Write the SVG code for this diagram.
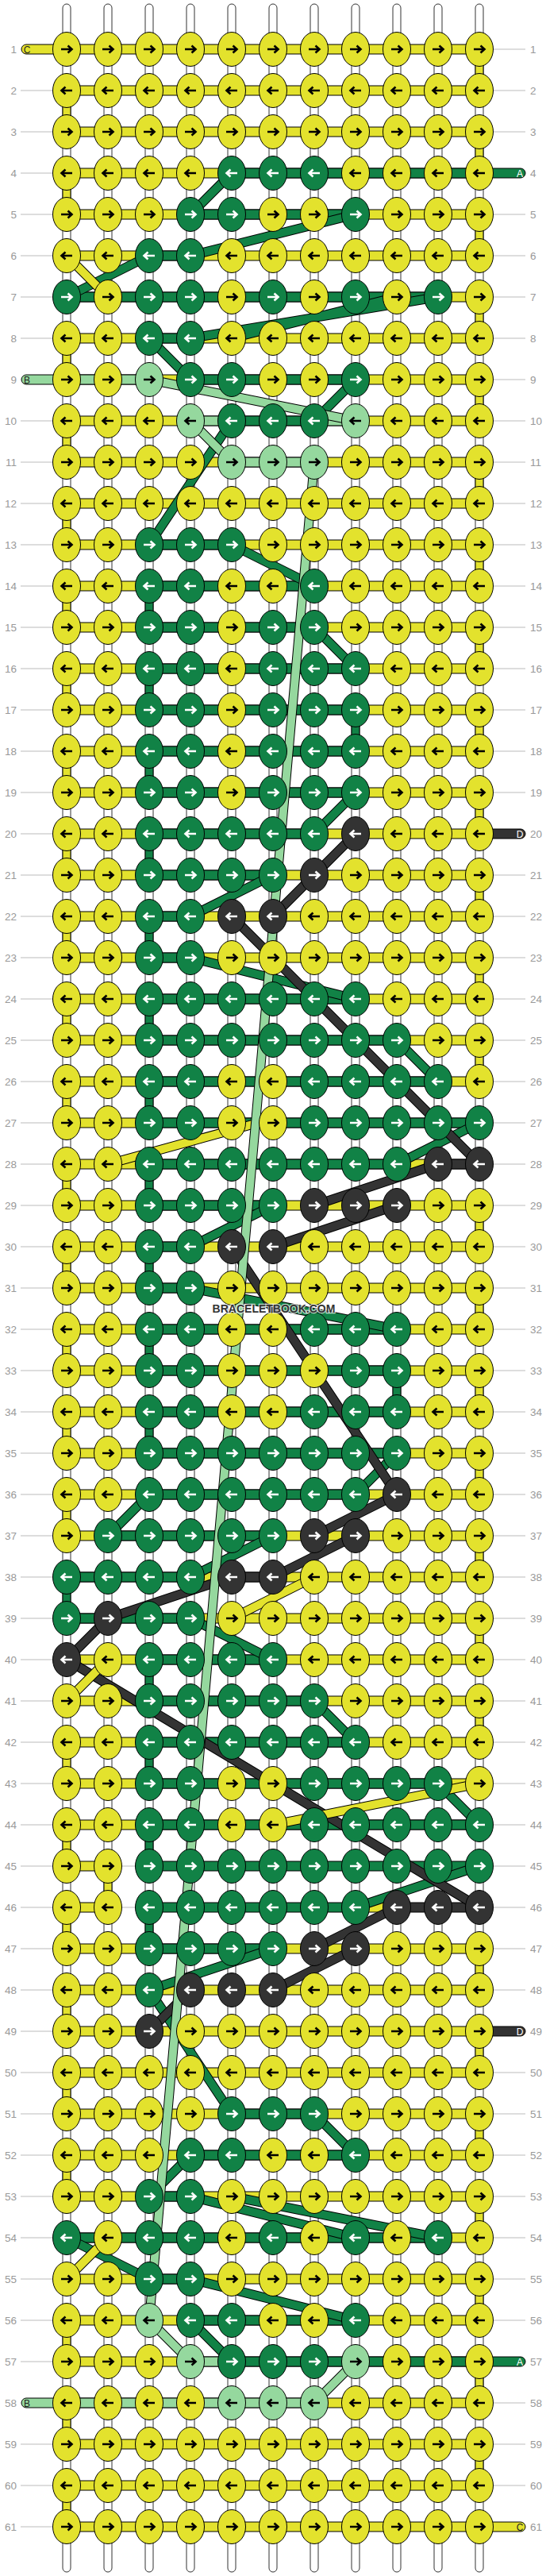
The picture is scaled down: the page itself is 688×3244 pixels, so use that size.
<svg xmlns="http://www.w3.org/2000/svg" width="688" height="3244" viewBox="0 0 688 3244">
<style>
.st{fill:#fff;stroke:#333;stroke-width:1}
.hy{fill:#e3e22d;stroke:#000;stroke-width:1}
.hg{fill:#118246;stroke:#000;stroke-width:1}
.hl{fill:#95d89e;stroke:#000;stroke-width:1}
.hd{fill:#333;stroke:#000;stroke-width:1}
.o{fill:none;stroke:#000;stroke-width:12}
.dg{fill:none;stroke:#118246;stroke-width:10}
.dl{fill:none;stroke:#95d89e;stroke-width:10}
.dd{fill:none;stroke:#333;stroke-width:10}
.dy{fill:none;stroke:#e3e22d;stroke-width:10}
.kn{stroke:#000;stroke-width:1}
.lb{font-family:"Liberation Sans",Arial,sans-serif;font-size:13.5px;fill:#999}
.ll{fill:none;stroke:#bbb;stroke-width:1}
.tl{font-family:"Liberation Sans",Arial,sans-serif;font-size:12px;text-anchor:middle}
</style>
<defs>
<path id="ar" d="M-7,0H6M1.5,-4.5L6.5,0L1.5,4.5" fill="none" stroke-width="2.6"/>
<path id="al" d="M7,0H-6M-1.5,-4.5L-6.5,0L-1.5,4.5" fill="none" stroke-width="2.6"/>
<g id="YR"><ellipse rx="17.5" ry="21.5" fill="#e3e22d" class="kn"/><use href="#ar" stroke="#000"/></g>
<g id="YL"><ellipse rx="17.5" ry="21.5" fill="#e3e22d" class="kn"/><use href="#al" stroke="#000"/></g>
<g id="GR"><ellipse rx="17.5" ry="21.5" fill="#118246" class="kn"/><use href="#ar" stroke="#fff"/></g>
<g id="GL"><ellipse rx="17.5" ry="21.5" fill="#118246" class="kn"/><use href="#al" stroke="#fff"/></g>
<g id="LR"><ellipse rx="17.5" ry="21.5" fill="#95d89e" class="kn"/><use href="#ar" stroke="#000"/></g>
<g id="LL"><ellipse rx="17.5" ry="21.5" fill="#95d89e" class="kn"/><use href="#al" stroke="#000"/></g>
<g id="DR"><ellipse rx="17.5" ry="21.5" fill="#333" class="kn"/><use href="#ar" stroke="#fff"/></g>
<g id="DL"><ellipse rx="17.5" ry="21.5" fill="#333" class="kn"/><use href="#al" stroke="#fff"/></g>
<path id="pg" d="M292,218L240,270M448,270L240,322M188,322L84,374M552,374L240,426M500,374L292,426M188,426L240,478M448,478L396,530M292,530L188,686M292,686L396,738M396,790L448,842M448,998L396,1050M344,1102L240,1154M240,1206L448,1258M500,1310L552,1362M604,1414L500,1466M344,1518L240,1570M240,1622L500,1674M500,1830L448,1882M188,1882L136,1934M344,1934L240,1986M240,2038L344,2090M396,2142L448,2194M552,2246L604,2298M604,2350L448,2402M344,2454L188,2506M188,2506L292,2662M396,2662L448,2714M240,2714L188,2766M240,2766L448,2818M292,2766L552,2818M84,2818L188,2870M240,2870L448,2922M240,2922L292,2974"/>
<path id="pd" d="M448,1050L344,1154M292,1154L604,1466M552,1466L396,1518M500,1518L344,1570M292,1570L500,1882M500,1882L396,1934M448,1934L344,1986M292,1986L136,2038M136,2038L84,2090M84,2090L604,2402M500,2402L396,2454M448,2454L344,2506M240,2506L188,2558"/>
<path id="py" d="M84,322L136,374M318,1416L136,1466M396,1986L292,2038M136,2090L84,2142M604,2246L344,2298M136,2818L84,2870"/>
<path id="pl" d="M188,478L448,530M240,530L292,582M396,582L188,2922M188,2922L240,2974M448,2974L396,3026"/>
</defs>
<rect width="688" height="3244" fill="#fff"/>
<g id="strings">
<rect class="st" x="79" y="5" width="10" height="3234" rx="5"/>
<rect class="st" x="131" y="5" width="10" height="3234" rx="5"/>
<rect class="st" x="183" y="5" width="10" height="3234" rx="5"/>
<rect class="st" x="235" y="5" width="10" height="3234" rx="5"/>
<rect class="st" x="287" y="5" width="10" height="3234" rx="5"/>
<rect class="st" x="339" y="5" width="10" height="3234" rx="5"/>
<rect class="st" x="391" y="5" width="10" height="3234" rx="5"/>
<rect class="st" x="443" y="5" width="10" height="3234" rx="5"/>
<rect class="st" x="495" y="5" width="10" height="3234" rx="5"/>
<rect class="st" x="547" y="5" width="10" height="3234" rx="5"/>
<rect class="st" x="599" y="5" width="10" height="3234" rx="5"/>
</g>
<g id="bands">
<rect class="hy" x="27" y="56" width="577" height="12" rx="6"/>
<rect class="hy" x="84" y="108" width="520" height="12"/>
<rect class="hy" x="84" y="160" width="520" height="12"/>
<rect class="hy" x="84" y="212" width="520" height="12"/>
<rect class="hy" x="84" y="264" width="520" height="12"/>
<rect class="hy" x="84" y="316" width="520" height="12"/>
<rect class="hy" x="84" y="368" width="520" height="12"/>
<rect class="hy" x="84" y="420" width="520" height="12"/>
<rect class="hy" x="84" y="472" width="520" height="12"/>
<rect class="hy" x="84" y="524" width="520" height="12"/>
<rect class="hy" x="84" y="576" width="520" height="12"/>
<rect class="hy" x="84" y="628" width="520" height="12"/>
<rect class="hy" x="84" y="680" width="520" height="12"/>
<rect class="hy" x="84" y="732" width="520" height="12"/>
<rect class="hy" x="84" y="784" width="520" height="12"/>
<rect class="hy" x="84" y="836" width="520" height="12"/>
<rect class="hy" x="84" y="888" width="520" height="12"/>
<rect class="hy" x="84" y="940" width="520" height="12"/>
<rect class="hy" x="84" y="992" width="520" height="12"/>
<rect class="hy" x="84" y="1044" width="520" height="12"/>
<rect class="hy" x="84" y="1096" width="520" height="12"/>
<rect class="hy" x="84" y="1148" width="520" height="12"/>
<rect class="hy" x="84" y="1200" width="520" height="12"/>
<rect class="hy" x="84" y="1252" width="520" height="12"/>
<rect class="hy" x="84" y="1304" width="520" height="12"/>
<rect class="hy" x="84" y="1356" width="520" height="12"/>
<rect class="hy" x="84" y="1408" width="520" height="12"/>
<rect class="hy" x="84" y="1460" width="520" height="12"/>
<rect class="hy" x="84" y="1512" width="520" height="12"/>
<rect class="hy" x="84" y="1564" width="520" height="12"/>
<rect class="hy" x="84" y="1616" width="520" height="12"/>
<rect class="hy" x="84" y="1668" width="520" height="12"/>
<rect class="hy" x="84" y="1720" width="520" height="12"/>
<rect class="hy" x="84" y="1772" width="520" height="12"/>
<rect class="hy" x="84" y="1824" width="520" height="12"/>
<rect class="hy" x="84" y="1876" width="520" height="12"/>
<rect class="hy" x="84" y="1928" width="520" height="12"/>
<rect class="hy" x="84" y="1980" width="520" height="12"/>
<rect class="hy" x="84" y="2032" width="520" height="12"/>
<rect class="hy" x="84" y="2084" width="520" height="12"/>
<rect class="hy" x="84" y="2136" width="520" height="12"/>
<rect class="hy" x="84" y="2188" width="520" height="12"/>
<rect class="hy" x="84" y="2240" width="520" height="12"/>
<rect class="hy" x="84" y="2292" width="520" height="12"/>
<rect class="hy" x="84" y="2344" width="52" height="12"/>
<rect class="hy" x="84" y="2396" width="52" height="12"/>
<rect class="hy" x="448" y="2396" width="52" height="12"/>
<path class="ll" d="M136,2350H188M136,2402H188"/>
<rect class="hy" x="84" y="2448" width="520" height="12"/>
<rect class="hy" x="84" y="2500" width="520" height="12"/>
<rect class="hy" x="84" y="2552" width="520" height="12"/>
<rect class="hy" x="84" y="2604" width="520" height="12"/>
<rect class="hy" x="84" y="2656" width="520" height="12"/>
<rect class="hy" x="84" y="2708" width="520" height="12"/>
<rect class="hy" x="84" y="2760" width="520" height="12"/>
<rect class="hy" x="84" y="2812" width="520" height="12"/>
<rect class="hy" x="84" y="2864" width="520" height="12"/>
<rect class="hy" x="84" y="2916" width="520" height="12"/>
<rect class="hy" x="84" y="2968" width="520" height="12"/>
<rect class="hy" x="84" y="3020" width="520" height="12"/>
<rect class="hy" x="84" y="3072" width="520" height="12"/>
<rect class="hy" x="84" y="3124" width="520" height="12"/>
<rect class="hy" x="84" y="3176" width="578" height="12" rx="6"/>
<rect class="hg" x="292" y="212" width="370" height="12" rx="6"/>
<rect class="hg" x="240" y="264" width="208" height="12"/>
<rect class="hg" x="188" y="316" width="52" height="12"/>
<rect class="hg" x="84" y="368" width="468" height="12"/>
<rect class="hg" x="188" y="420" width="52" height="12"/>
<rect class="hl" x="27" y="472" width="161" height="12" rx="6"/>
<rect class="hg" x="240" y="472" width="208" height="12"/>
<rect class="hl" x="240" y="524" width="52" height="12"/>
<rect class="hg" x="292" y="524" width="104" height="12"/>
<rect class="hl" x="396" y="524" width="52" height="12"/>
<rect class="hl" x="292" y="576" width="104" height="12"/>
<rect class="hg" x="188" y="680" width="104" height="12"/>
<rect class="hg" x="188" y="732" width="208" height="12"/>
<rect class="hg" x="188" y="784" width="208" height="12"/>
<rect class="hg" x="188" y="836" width="260" height="12"/>
<rect class="hg" x="188" y="888" width="260" height="12"/>
<rect class="hg" x="188" y="940" width="260" height="12"/>
<rect class="hg" x="188" y="992" width="260" height="12"/>
<rect class="hg" x="188" y="1044" width="208" height="12"/>
<rect class="hd" x="590" y="1044" width="72" height="12" rx="6"/>
<rect class="hg" x="188" y="1096" width="156" height="12"/>
<rect class="hg" x="188" y="1148" width="52" height="12"/>
<rect class="hg" x="188" y="1200" width="52" height="12"/>
<rect class="hg" x="188" y="1252" width="260" height="12"/>
<rect class="hg" x="188" y="1304" width="312" height="12"/>
<rect class="hg" x="188" y="1356" width="364" height="12"/>
<rect class="hg" x="188" y="1408" width="416" height="12"/>
<rect class="hg" x="188" y="1460" width="312" height="12"/>
<rect class="hd" x="552" y="1460" width="52" height="12"/>
<rect class="hg" x="188" y="1512" width="156" height="12"/>
<rect class="hg" x="188" y="1564" width="52" height="12"/>
<rect class="hg" x="188" y="1616" width="52" height="12"/>
<rect class="hg" x="188" y="1668" width="312" height="12"/>
<rect class="hg" x="188" y="1720" width="312" height="12"/>
<rect class="hg" x="188" y="1772" width="312" height="12"/>
<rect class="hg" x="188" y="1824" width="312" height="12"/>
<rect class="hg" x="188" y="1876" width="260" height="12"/>
<rect class="hg" x="136" y="1928" width="208" height="12"/>
<rect class="hg" x="84" y="1980" width="156" height="12"/>
<rect class="hd" x="292" y="1980" width="52" height="12"/>
<rect class="hg" x="84" y="2032" width="156" height="12"/>
<rect class="hg" x="188" y="2084" width="156" height="12"/>
<rect class="hg" x="188" y="2136" width="208" height="12"/>
<rect class="hg" x="188" y="2188" width="260" height="12"/>
<rect class="hg" x="188" y="2240" width="364" height="12"/>
<rect class="hg" x="188" y="2292" width="416" height="12"/>
<rect class="hg" x="188" y="2344" width="416" height="12"/>
<rect class="hg" x="188" y="2396" width="260" height="12"/>
<rect class="hd" x="500" y="2396" width="104" height="12"/>
<rect class="hg" x="188" y="2448" width="156" height="12"/>
<rect class="hd" x="590" y="2552" width="72" height="12" rx="6"/>
<rect class="hg" x="292" y="2656" width="104" height="12"/>
<rect class="hg" x="240" y="2708" width="208" height="12"/>
<rect class="hg" x="188" y="2760" width="52" height="12"/>
<rect class="hg" x="84" y="2812" width="468" height="12"/>
<rect class="hg" x="188" y="2864" width="52" height="12"/>
<rect class="hg" x="240" y="2916" width="208" height="12"/>
<rect class="hl" x="240" y="2968" width="52" height="12"/>
<rect class="hg" x="292" y="2968" width="370" height="12" rx="6"/>
<rect class="hl" x="27" y="3020" width="369" height="12" rx="6"/>
</g>
<g id="turns">
<path class="hy" d="M599,62h10v52h-10zM599,166h10v52h-10zM599,270h10v52h-10zM599,374h10v52h-10zM599,478h10v52h-10zM599,582h10v52h-10zM599,686h10v52h-10zM599,790h10v52h-10zM599,894h10v52h-10zM599,998h10v52h-10zM599,1102h10v52h-10zM599,1206h10v52h-10zM599,1310h10v52h-10zM599,1518h10v52h-10zM599,1622h10v52h-10zM599,1726h10v52h-10zM599,1830h10v52h-10zM599,1934h10v52h-10zM599,2038h10v52h-10zM599,2142h10v52h-10zM599,2454h10v52h-10zM599,2558h10v52h-10zM599,2662h10v52h-10zM599,2766h10v52h-10zM599,2870h10v52h-10zM599,2974h10v52h-10zM599,3078h10v52h-10z"/>
<path class="hy" d="M79,114h10v52h-10zM79,218h10v52h-10zM79,426h10v52h-10zM79,530h10v52h-10zM79,634h10v52h-10zM79,738h10v52h-10zM79,842h10v52h-10zM79,946h10v52h-10zM79,1050h10v52h-10zM79,1154h10v52h-10zM79,1258h10v52h-10zM79,1362h10v52h-10zM79,1466h10v52h-10zM79,1570h10v52h-10zM79,1674h10v52h-10zM79,1778h10v52h-10zM79,1882h10v52h-10zM79,2194h10v52h-10zM79,2298h10v52h-10zM79,2402h10v52h-10zM79,2506h10v52h-10zM79,2610h10v52h-10zM79,2714h10v52h-10zM79,2922h10v52h-10zM79,3026h10v52h-10zM79,3130h10v52h-10zM131,2350h10v52h-10z"/>
<path class="hg" d="M183,738h10v52h-10zM183,842h10v52h-10zM183,946h10v52h-10zM183,1050h10v52h-10zM183,1154h10v52h-10zM183,1258h10v52h-10zM183,1362h10v52h-10zM183,1466h10v52h-10zM183,1570h10v52h-10zM183,1674h10v52h-10zM183,1778h10v52h-10zM183,2090h10v52h-10zM183,2194h10v52h-10zM183,2298h10v52h-10zM183,2402h10v52h-10zM443,894h10v52h-10zM495,1726h10v52h-10zM79,1986h10v52h-10z"/>
</g>
<g id="connectors">
<use href="#pg" class="o"/><use href="#pg" class="dg"/>
<use href="#pd" class="o"/><use href="#pd" class="dd"/>
<use href="#py" class="o"/><use href="#py" class="dy"/>
<use href="#pl" class="o"/><use href="#pl" class="dl"/>
</g>
<g id="knots">
<g id="row1" transform="translate(0,62)"><use id="k1_1" href="#YR" x="84"/><use id="k1_2" href="#YR" x="136"/><use id="k1_3" href="#YR" x="188"/><use id="k1_4" href="#YR" x="240"/><use id="k1_5" href="#YR" x="292"/><use id="k1_6" href="#YR" x="344"/><use id="k1_7" href="#YR" x="396"/><use id="k1_8" href="#YR" x="448"/><use id="k1_9" href="#YR" x="500"/><use id="k1_10" href="#YR" x="552"/><use id="k1_11" href="#YR" x="604"/></g>
<g id="row2" transform="translate(0,114)"><use id="k2_1" href="#YL" x="84"/><use id="k2_2" href="#YL" x="136"/><use id="k2_3" href="#YL" x="188"/><use id="k2_4" href="#YL" x="240"/><use id="k2_5" href="#YL" x="292"/><use id="k2_6" href="#YL" x="344"/><use id="k2_7" href="#YL" x="396"/><use id="k2_8" href="#YL" x="448"/><use id="k2_9" href="#YL" x="500"/><use id="k2_10" href="#YL" x="552"/><use id="k2_11" href="#YL" x="604"/></g>
<g id="row3" transform="translate(0,166)"><use id="k3_1" href="#YR" x="84"/><use id="k3_2" href="#YR" x="136"/><use id="k3_3" href="#YR" x="188"/><use id="k3_4" href="#YR" x="240"/><use id="k3_5" href="#YR" x="292"/><use id="k3_6" href="#YR" x="344"/><use id="k3_7" href="#YR" x="396"/><use id="k3_8" href="#YR" x="448"/><use id="k3_9" href="#YR" x="500"/><use id="k3_10" href="#YR" x="552"/><use id="k3_11" href="#YR" x="604"/></g>
<g id="row4" transform="translate(0,218)"><use id="k4_1" href="#YL" x="84"/><use id="k4_2" href="#YL" x="136"/><use id="k4_3" href="#YL" x="188"/><use id="k4_4" href="#YL" x="240"/><use id="k4_5" href="#GL" x="292"/><use id="k4_6" href="#GL" x="344"/><use id="k4_7" href="#GL" x="396"/><use id="k4_8" href="#YL" x="448"/><use id="k4_9" href="#YL" x="500"/><use id="k4_10" href="#YL" x="552"/><use id="k4_11" href="#YL" x="604"/></g>
<g id="row5" transform="translate(0,270)"><use id="k5_1" href="#YR" x="84"/><use id="k5_2" href="#YR" x="136"/><use id="k5_3" href="#YR" x="188"/><use id="k5_4" href="#GR" x="240"/><use id="k5_5" href="#GR" x="292"/><use id="k5_6" href="#YR" x="344"/><use id="k5_7" href="#YR" x="396"/><use id="k5_8" href="#GR" x="448"/><use id="k5_9" href="#YR" x="500"/><use id="k5_10" href="#YR" x="552"/><use id="k5_11" href="#YR" x="604"/></g>
<g id="row6" transform="translate(0,322)"><use id="k6_1" href="#YL" x="84"/><use id="k6_2" href="#YL" x="136"/><use id="k6_3" href="#GL" x="188"/><use id="k6_4" href="#GL" x="240"/><use id="k6_5" href="#YL" x="292"/><use id="k6_6" href="#YL" x="344"/><use id="k6_7" href="#YL" x="396"/><use id="k6_8" href="#YL" x="448"/><use id="k6_9" href="#YL" x="500"/><use id="k6_10" href="#YL" x="552"/><use id="k6_11" href="#YL" x="604"/></g>
<g id="row7" transform="translate(0,374)"><use id="k7_1" href="#GR" x="84"/><use id="k7_2" href="#YR" x="136"/><use id="k7_3" href="#GR" x="188"/><use id="k7_4" href="#GR" x="240"/><use id="k7_5" href="#YR" x="292"/><use id="k7_6" href="#GR" x="344"/><use id="k7_7" href="#YR" x="396"/><use id="k7_8" href="#GR" x="448"/><use id="k7_9" href="#YR" x="500"/><use id="k7_10" href="#GR" x="552"/><use id="k7_11" href="#YR" x="604"/></g>
<g id="row8" transform="translate(0,426)"><use id="k8_1" href="#YL" x="84"/><use id="k8_2" href="#YL" x="136"/><use id="k8_3" href="#GL" x="188"/><use id="k8_4" href="#GL" x="240"/><use id="k8_5" href="#YL" x="292"/><use id="k8_6" href="#YL" x="344"/><use id="k8_7" href="#YL" x="396"/><use id="k8_8" href="#YL" x="448"/><use id="k8_9" href="#YL" x="500"/><use id="k8_10" href="#YL" x="552"/><use id="k8_11" href="#YL" x="604"/></g>
<g id="row9" transform="translate(0,478)"><use id="k9_1" href="#YR" x="84"/><use id="k9_2" href="#YR" x="136"/><use id="k9_3" href="#LR" x="188"/><use id="k9_4" href="#GR" x="240"/><use id="k9_5" href="#GR" x="292"/><use id="k9_6" href="#YR" x="344"/><use id="k9_7" href="#YR" x="396"/><use id="k9_8" href="#GR" x="448"/><use id="k9_9" href="#YR" x="500"/><use id="k9_10" href="#YR" x="552"/><use id="k9_11" href="#YR" x="604"/></g>
<g id="row10" transform="translate(0,530)"><use id="k10_1" href="#YL" x="84"/><use id="k10_2" href="#YL" x="136"/><use id="k10_3" href="#YL" x="188"/><use id="k10_4" href="#LL" x="240"/><use id="k10_5" href="#GL" x="292"/><use id="k10_6" href="#GL" x="344"/><use id="k10_7" href="#GL" x="396"/><use id="k10_8" href="#LL" x="448"/><use id="k10_9" href="#YL" x="500"/><use id="k10_10" href="#YL" x="552"/><use id="k10_11" href="#YL" x="604"/></g>
<g id="row11" transform="translate(0,582)"><use id="k11_1" href="#YR" x="84"/><use id="k11_2" href="#YR" x="136"/><use id="k11_3" href="#YR" x="188"/><use id="k11_4" href="#YR" x="240"/><use id="k11_5" href="#LR" x="292"/><use id="k11_6" href="#LR" x="344"/><use id="k11_7" href="#LR" x="396"/><use id="k11_8" href="#YR" x="448"/><use id="k11_9" href="#YR" x="500"/><use id="k11_10" href="#YR" x="552"/><use id="k11_11" href="#YR" x="604"/></g>
<g id="row12" transform="translate(0,634)"><use id="k12_1" href="#YL" x="84"/><use id="k12_2" href="#YL" x="136"/><use id="k12_3" href="#YL" x="188"/><use id="k12_4" href="#YL" x="240"/><use id="k12_5" href="#YL" x="292"/><use id="k12_6" href="#YL" x="344"/><use id="k12_7" href="#YL" x="396"/><use id="k12_8" href="#YL" x="448"/><use id="k12_9" href="#YL" x="500"/><use id="k12_10" href="#YL" x="552"/><use id="k12_11" href="#YL" x="604"/></g>
<g id="row13" transform="translate(0,686)"><use id="k13_1" href="#YR" x="84"/><use id="k13_2" href="#YR" x="136"/><use id="k13_3" href="#GR" x="188"/><use id="k13_4" href="#GR" x="240"/><use id="k13_5" href="#GR" x="292"/><use id="k13_6" href="#YR" x="344"/><use id="k13_7" href="#YR" x="396"/><use id="k13_8" href="#YR" x="448"/><use id="k13_9" href="#YR" x="500"/><use id="k13_10" href="#YR" x="552"/><use id="k13_11" href="#YR" x="604"/></g>
<g id="row14" transform="translate(0,738)"><use id="k14_1" href="#YL" x="84"/><use id="k14_2" href="#YL" x="136"/><use id="k14_3" href="#GL" x="188"/><use id="k14_4" href="#GL" x="240"/><use id="k14_5" href="#YL" x="292"/><use id="k14_6" href="#YL" x="344"/><use id="k14_7" href="#GL" x="396"/><use id="k14_8" href="#YL" x="448"/><use id="k14_9" href="#YL" x="500"/><use id="k14_10" href="#YL" x="552"/><use id="k14_11" href="#YL" x="604"/></g>
<g id="row15" transform="translate(0,790)"><use id="k15_1" href="#YR" x="84"/><use id="k15_2" href="#YR" x="136"/><use id="k15_3" href="#GR" x="188"/><use id="k15_4" href="#GR" x="240"/><use id="k15_5" href="#YR" x="292"/><use id="k15_6" href="#GR" x="344"/><use id="k15_7" href="#GR" x="396"/><use id="k15_8" href="#YR" x="448"/><use id="k15_9" href="#YR" x="500"/><use id="k15_10" href="#YR" x="552"/><use id="k15_11" href="#YR" x="604"/></g>
<g id="row16" transform="translate(0,842)"><use id="k16_1" href="#YL" x="84"/><use id="k16_2" href="#YL" x="136"/><use id="k16_3" href="#GL" x="188"/><use id="k16_4" href="#GL" x="240"/><use id="k16_5" href="#YL" x="292"/><use id="k16_6" href="#GL" x="344"/><use id="k16_7" href="#GL" x="396"/><use id="k16_8" href="#GL" x="448"/><use id="k16_9" href="#YL" x="500"/><use id="k16_10" href="#YL" x="552"/><use id="k16_11" href="#YL" x="604"/></g>
<g id="row17" transform="translate(0,894)"><use id="k17_1" href="#YR" x="84"/><use id="k17_2" href="#YR" x="136"/><use id="k17_3" href="#GR" x="188"/><use id="k17_4" href="#GR" x="240"/><use id="k17_5" href="#YR" x="292"/><use id="k17_6" href="#GR" x="344"/><use id="k17_7" href="#GR" x="396"/><use id="k17_8" href="#GR" x="448"/><use id="k17_9" href="#YR" x="500"/><use id="k17_10" href="#YR" x="552"/><use id="k17_11" href="#YR" x="604"/></g>
<g id="row18" transform="translate(0,946)"><use id="k18_1" href="#YL" x="84"/><use id="k18_2" href="#YL" x="136"/><use id="k18_3" href="#GL" x="188"/><use id="k18_4" href="#GL" x="240"/><use id="k18_5" href="#YL" x="292"/><use id="k18_6" href="#GL" x="344"/><use id="k18_7" href="#GL" x="396"/><use id="k18_8" href="#GL" x="448"/><use id="k18_9" href="#YL" x="500"/><use id="k18_10" href="#YL" x="552"/><use id="k18_11" href="#YL" x="604"/></g>
<g id="row19" transform="translate(0,998)"><use id="k19_1" href="#YR" x="84"/><use id="k19_2" href="#YR" x="136"/><use id="k19_3" href="#GR" x="188"/><use id="k19_4" href="#GR" x="240"/><use id="k19_5" href="#YR" x="292"/><use id="k19_6" href="#GR" x="344"/><use id="k19_7" href="#GR" x="396"/><use id="k19_8" href="#GR" x="448"/><use id="k19_9" href="#YR" x="500"/><use id="k19_10" href="#YR" x="552"/><use id="k19_11" href="#YR" x="604"/></g>
<g id="row20" transform="translate(0,1050)"><use id="k20_1" href="#YL" x="84"/><use id="k20_2" href="#YL" x="136"/><use id="k20_3" href="#GL" x="188"/><use id="k20_4" href="#GL" x="240"/><use id="k20_5" href="#GL" x="292"/><use id="k20_6" href="#GL" x="344"/><use id="k20_7" href="#GL" x="396"/><use id="k20_8" href="#DL" x="448"/><use id="k20_9" href="#YL" x="500"/><use id="k20_10" href="#YL" x="552"/><use id="k20_11" href="#YL" x="604"/></g>
<g id="row21" transform="translate(0,1102)"><use id="k21_1" href="#YR" x="84"/><use id="k21_2" href="#YR" x="136"/><use id="k21_3" href="#GR" x="188"/><use id="k21_4" href="#GR" x="240"/><use id="k21_5" href="#GR" x="292"/><use id="k21_6" href="#GR" x="344"/><use id="k21_7" href="#DR" x="396"/><use id="k21_8" href="#YR" x="448"/><use id="k21_9" href="#YR" x="500"/><use id="k21_10" href="#YR" x="552"/><use id="k21_11" href="#YR" x="604"/></g>
<g id="row22" transform="translate(0,1154)"><use id="k22_1" href="#YL" x="84"/><use id="k22_2" href="#YL" x="136"/><use id="k22_3" href="#GL" x="188"/><use id="k22_4" href="#GL" x="240"/><use id="k22_5" href="#DL" x="292"/><use id="k22_6" href="#DL" x="344"/><use id="k22_7" href="#YL" x="396"/><use id="k22_8" href="#YL" x="448"/><use id="k22_9" href="#YL" x="500"/><use id="k22_10" href="#YL" x="552"/><use id="k22_11" href="#YL" x="604"/></g>
<g id="row23" transform="translate(0,1206)"><use id="k23_1" href="#YR" x="84"/><use id="k23_2" href="#YR" x="136"/><use id="k23_3" href="#GR" x="188"/><use id="k23_4" href="#GR" x="240"/><use id="k23_5" href="#YR" x="292"/><use id="k23_6" href="#YR" x="344"/><use id="k23_7" href="#YR" x="396"/><use id="k23_8" href="#YR" x="448"/><use id="k23_9" href="#YR" x="500"/><use id="k23_10" href="#YR" x="552"/><use id="k23_11" href="#YR" x="604"/></g>
<g id="row24" transform="translate(0,1258)"><use id="k24_1" href="#YL" x="84"/><use id="k24_2" href="#YL" x="136"/><use id="k24_3" href="#GL" x="188"/><use id="k24_4" href="#GL" x="240"/><use id="k24_5" href="#GL" x="292"/><use id="k24_6" href="#GL" x="344"/><use id="k24_7" href="#GL" x="396"/><use id="k24_8" href="#GL" x="448"/><use id="k24_9" href="#YL" x="500"/><use id="k24_10" href="#YL" x="552"/><use id="k24_11" href="#YL" x="604"/></g>
<g id="row25" transform="translate(0,1310)"><use id="k25_1" href="#YR" x="84"/><use id="k25_2" href="#YR" x="136"/><use id="k25_3" href="#GR" x="188"/><use id="k25_4" href="#GR" x="240"/><use id="k25_5" href="#GR" x="292"/><use id="k25_6" href="#GR" x="344"/><use id="k25_7" href="#GR" x="396"/><use id="k25_8" href="#GR" x="448"/><use id="k25_9" href="#GR" x="500"/><use id="k25_10" href="#YR" x="552"/><use id="k25_11" href="#YR" x="604"/></g>
<g id="row26" transform="translate(0,1362)"><use id="k26_1" href="#YL" x="84"/><use id="k26_2" href="#YL" x="136"/><use id="k26_3" href="#GL" x="188"/><use id="k26_4" href="#GL" x="240"/><use id="k26_5" href="#YL" x="292"/><use id="k26_6" href="#YL" x="344"/><use id="k26_7" href="#GL" x="396"/><use id="k26_8" href="#GL" x="448"/><use id="k26_9" href="#GL" x="500"/><use id="k26_10" href="#GL" x="552"/><use id="k26_11" href="#YL" x="604"/></g>
<g id="row27" transform="translate(0,1414)"><use id="k27_1" href="#YR" x="84"/><use id="k27_2" href="#YR" x="136"/><use id="k27_3" href="#GR" x="188"/><use id="k27_4" href="#GR" x="240"/><use id="k27_5" href="#YR" x="292"/><use id="k27_6" href="#YR" x="344"/><use id="k27_7" href="#GR" x="396"/><use id="k27_8" href="#GR" x="448"/><use id="k27_9" href="#GR" x="500"/><use id="k27_10" href="#GR" x="552"/><use id="k27_11" href="#GR" x="604"/></g>
<g id="row28" transform="translate(0,1466)"><use id="k28_1" href="#YL" x="84"/><use id="k28_2" href="#YL" x="136"/><use id="k28_3" href="#GL" x="188"/><use id="k28_4" href="#GL" x="240"/><use id="k28_5" href="#GL" x="292"/><use id="k28_6" href="#GL" x="344"/><use id="k28_7" href="#GL" x="396"/><use id="k28_8" href="#GL" x="448"/><use id="k28_9" href="#GL" x="500"/><use id="k28_10" href="#DL" x="552"/><use id="k28_11" href="#DL" x="604"/></g>
<g id="row29" transform="translate(0,1518)"><use id="k29_1" href="#YR" x="84"/><use id="k29_2" href="#YR" x="136"/><use id="k29_3" href="#GR" x="188"/><use id="k29_4" href="#GR" x="240"/><use id="k29_5" href="#GR" x="292"/><use id="k29_6" href="#GR" x="344"/><use id="k29_7" href="#DR" x="396"/><use id="k29_8" href="#DR" x="448"/><use id="k29_9" href="#DR" x="500"/><use id="k29_10" href="#YR" x="552"/><use id="k29_11" href="#YR" x="604"/></g>
<g id="row30" transform="translate(0,1570)"><use id="k30_1" href="#YL" x="84"/><use id="k30_2" href="#YL" x="136"/><use id="k30_3" href="#GL" x="188"/><use id="k30_4" href="#GL" x="240"/><use id="k30_5" href="#DL" x="292"/><use id="k30_6" href="#DL" x="344"/><use id="k30_7" href="#YL" x="396"/><use id="k30_8" href="#YL" x="448"/><use id="k30_9" href="#YL" x="500"/><use id="k30_10" href="#YL" x="552"/><use id="k30_11" href="#YL" x="604"/></g>
<g id="row31" transform="translate(0,1622)"><use id="k31_1" href="#YR" x="84"/><use id="k31_2" href="#YR" x="136"/><use id="k31_3" href="#GR" x="188"/><use id="k31_4" href="#GR" x="240"/><use id="k31_5" href="#YR" x="292"/><use id="k31_6" href="#YR" x="344"/><use id="k31_7" href="#YR" x="396"/><use id="k31_8" href="#YR" x="448"/><use id="k31_9" href="#YR" x="500"/><use id="k31_10" href="#YR" x="552"/><use id="k31_11" href="#YR" x="604"/></g>
<g id="row32" transform="translate(0,1674)"><use id="k32_1" href="#YL" x="84"/><use id="k32_2" href="#YL" x="136"/><use id="k32_3" href="#GL" x="188"/><use id="k32_4" href="#GL" x="240"/><use id="k32_5" href="#YL" x="292"/><use id="k32_6" href="#YL" x="344"/><use id="k32_7" href="#GL" x="396"/><use id="k32_8" href="#GL" x="448"/><use id="k32_9" href="#GL" x="500"/><use id="k32_10" href="#YL" x="552"/><use id="k32_11" href="#YL" x="604"/></g>
<g id="row33" transform="translate(0,1726)"><use id="k33_1" href="#YR" x="84"/><use id="k33_2" href="#YR" x="136"/><use id="k33_3" href="#GR" x="188"/><use id="k33_4" href="#GR" x="240"/><use id="k33_5" href="#YR" x="292"/><use id="k33_6" href="#YR" x="344"/><use id="k33_7" href="#YR" x="396"/><use id="k33_8" href="#GR" x="448"/><use id="k33_9" href="#GR" x="500"/><use id="k33_10" href="#YR" x="552"/><use id="k33_11" href="#YR" x="604"/></g>
<g id="row34" transform="translate(0,1778)"><use id="k34_1" href="#YL" x="84"/><use id="k34_2" href="#YL" x="136"/><use id="k34_3" href="#GL" x="188"/><use id="k34_4" href="#GL" x="240"/><use id="k34_5" href="#YL" x="292"/><use id="k34_6" href="#YL" x="344"/><use id="k34_7" href="#GL" x="396"/><use id="k34_8" href="#GL" x="448"/><use id="k34_9" href="#GL" x="500"/><use id="k34_10" href="#YL" x="552"/><use id="k34_11" href="#YL" x="604"/></g>
<g id="row35" transform="translate(0,1830)"><use id="k35_1" href="#YR" x="84"/><use id="k35_2" href="#YR" x="136"/><use id="k35_3" href="#GR" x="188"/><use id="k35_4" href="#GR" x="240"/><use id="k35_5" href="#GR" x="292"/><use id="k35_6" href="#GR" x="344"/><use id="k35_7" href="#GR" x="396"/><use id="k35_8" href="#GR" x="448"/><use id="k35_9" href="#GR" x="500"/><use id="k35_10" href="#YR" x="552"/><use id="k35_11" href="#YR" x="604"/></g>
<g id="row36" transform="translate(0,1882)"><use id="k36_1" href="#YL" x="84"/><use id="k36_2" href="#YL" x="136"/><use id="k36_3" href="#GL" x="188"/><use id="k36_4" href="#GL" x="240"/><use id="k36_5" href="#GL" x="292"/><use id="k36_6" href="#GL" x="344"/><use id="k36_7" href="#GL" x="396"/><use id="k36_8" href="#GL" x="448"/><use id="k36_9" href="#DL" x="500"/><use id="k36_10" href="#YL" x="552"/><use id="k36_11" href="#YL" x="604"/></g>
<g id="row37" transform="translate(0,1934)"><use id="k37_1" href="#YR" x="84"/><use id="k37_2" href="#GR" x="136"/><use id="k37_3" href="#GR" x="188"/><use id="k37_4" href="#GR" x="240"/><use id="k37_5" href="#GR" x="292"/><use id="k37_6" href="#GR" x="344"/><use id="k37_7" href="#DR" x="396"/><use id="k37_8" href="#DR" x="448"/><use id="k37_9" href="#YR" x="500"/><use id="k37_10" href="#YR" x="552"/><use id="k37_11" href="#YR" x="604"/></g>
<g id="row38" transform="translate(0,1986)"><use id="k38_1" href="#GL" x="84"/><use id="k38_2" href="#GL" x="136"/><use id="k38_3" href="#GL" x="188"/><use id="k38_4" href="#GL" x="240"/><use id="k38_5" href="#DL" x="292"/><use id="k38_6" href="#DL" x="344"/><use id="k38_7" href="#YL" x="396"/><use id="k38_8" href="#YL" x="448"/><use id="k38_9" href="#YL" x="500"/><use id="k38_10" href="#YL" x="552"/><use id="k38_11" href="#YL" x="604"/></g>
<g id="row39" transform="translate(0,2038)"><use id="k39_1" href="#GR" x="84"/><use id="k39_2" href="#DR" x="136"/><use id="k39_3" href="#GR" x="188"/><use id="k39_4" href="#GR" x="240"/><use id="k39_5" href="#YR" x="292"/><use id="k39_6" href="#YR" x="344"/><use id="k39_7" href="#YR" x="396"/><use id="k39_8" href="#YR" x="448"/><use id="k39_9" href="#YR" x="500"/><use id="k39_10" href="#YR" x="552"/><use id="k39_11" href="#YR" x="604"/></g>
<g id="row40" transform="translate(0,2090)"><use id="k40_1" href="#DL" x="84"/><use id="k40_2" href="#YL" x="136"/><use id="k40_3" href="#GL" x="188"/><use id="k40_4" href="#GL" x="240"/><use id="k40_5" href="#GL" x="292"/><use id="k40_6" href="#GL" x="344"/><use id="k40_7" href="#YL" x="396"/><use id="k40_8" href="#YL" x="448"/><use id="k40_9" href="#YL" x="500"/><use id="k40_10" href="#YL" x="552"/><use id="k40_11" href="#YL" x="604"/></g>
<g id="row41" transform="translate(0,2142)"><use id="k41_1" href="#YR" x="84"/><use id="k41_2" href="#YR" x="136"/><use id="k41_3" href="#GR" x="188"/><use id="k41_4" href="#GR" x="240"/><use id="k41_5" href="#GR" x="292"/><use id="k41_6" href="#GR" x="344"/><use id="k41_7" href="#GR" x="396"/><use id="k41_8" href="#YR" x="448"/><use id="k41_9" href="#YR" x="500"/><use id="k41_10" href="#YR" x="552"/><use id="k41_11" href="#YR" x="604"/></g>
<g id="row42" transform="translate(0,2194)"><use id="k42_1" href="#YL" x="84"/><use id="k42_2" href="#YL" x="136"/><use id="k42_3" href="#GL" x="188"/><use id="k42_4" href="#GL" x="240"/><use id="k42_5" href="#GL" x="292"/><use id="k42_6" href="#GL" x="344"/><use id="k42_7" href="#GL" x="396"/><use id="k42_8" href="#GL" x="448"/><use id="k42_9" href="#YL" x="500"/><use id="k42_10" href="#YL" x="552"/><use id="k42_11" href="#YL" x="604"/></g>
<g id="row43" transform="translate(0,2246)"><use id="k43_1" href="#YR" x="84"/><use id="k43_2" href="#YR" x="136"/><use id="k43_3" href="#GR" x="188"/><use id="k43_4" href="#GR" x="240"/><use id="k43_5" href="#YR" x="292"/><use id="k43_6" href="#YR" x="344"/><use id="k43_7" href="#GR" x="396"/><use id="k43_8" href="#GR" x="448"/><use id="k43_9" href="#GR" x="500"/><use id="k43_10" href="#GR" x="552"/><use id="k43_11" href="#YR" x="604"/></g>
<g id="row44" transform="translate(0,2298)"><use id="k44_1" href="#YL" x="84"/><use id="k44_2" href="#YL" x="136"/><use id="k44_3" href="#GL" x="188"/><use id="k44_4" href="#GL" x="240"/><use id="k44_5" href="#YL" x="292"/><use id="k44_6" href="#YL" x="344"/><use id="k44_7" href="#GL" x="396"/><use id="k44_8" href="#GL" x="448"/><use id="k44_9" href="#GL" x="500"/><use id="k44_10" href="#GL" x="552"/><use id="k44_11" href="#GL" x="604"/></g>
<g id="row45" transform="translate(0,2350)"><use id="k45_1" href="#YR" x="84"/><use id="k45_2" href="#YR" x="136"/><use id="k45_3" href="#GR" x="188"/><use id="k45_4" href="#GR" x="240"/><use id="k45_5" href="#GR" x="292"/><use id="k45_6" href="#GR" x="344"/><use id="k45_7" href="#GR" x="396"/><use id="k45_8" href="#GR" x="448"/><use id="k45_9" href="#GR" x="500"/><use id="k45_10" href="#GR" x="552"/><use id="k45_11" href="#GR" x="604"/></g>
<g id="row46" transform="translate(0,2402)"><use id="k46_1" href="#YL" x="84"/><use id="k46_2" href="#YL" x="136"/><use id="k46_3" href="#GL" x="188"/><use id="k46_4" href="#GL" x="240"/><use id="k46_5" href="#GL" x="292"/><use id="k46_6" href="#GL" x="344"/><use id="k46_7" href="#GL" x="396"/><use id="k46_8" href="#GL" x="448"/><use id="k46_9" href="#DL" x="500"/><use id="k46_10" href="#DL" x="552"/><use id="k46_11" href="#DL" x="604"/></g>
<g id="row47" transform="translate(0,2454)"><use id="k47_1" href="#YR" x="84"/><use id="k47_2" href="#YR" x="136"/><use id="k47_3" href="#GR" x="188"/><use id="k47_4" href="#GR" x="240"/><use id="k47_5" href="#GR" x="292"/><use id="k47_6" href="#GR" x="344"/><use id="k47_7" href="#DR" x="396"/><use id="k47_8" href="#DR" x="448"/><use id="k47_9" href="#YR" x="500"/><use id="k47_10" href="#YR" x="552"/><use id="k47_11" href="#YR" x="604"/></g>
<g id="row48" transform="translate(0,2506)"><use id="k48_1" href="#YL" x="84"/><use id="k48_2" href="#YL" x="136"/><use id="k48_3" href="#GL" x="188"/><use id="k48_4" href="#DL" x="240"/><use id="k48_5" href="#DL" x="292"/><use id="k48_6" href="#DL" x="344"/><use id="k48_7" href="#YL" x="396"/><use id="k48_8" href="#YL" x="448"/><use id="k48_9" href="#YL" x="500"/><use id="k48_10" href="#YL" x="552"/><use id="k48_11" href="#YL" x="604"/></g>
<g id="row49" transform="translate(0,2558)"><use id="k49_1" href="#YR" x="84"/><use id="k49_2" href="#YR" x="136"/><use id="k49_3" href="#DR" x="188"/><use id="k49_4" href="#YR" x="240"/><use id="k49_5" href="#YR" x="292"/><use id="k49_6" href="#YR" x="344"/><use id="k49_7" href="#YR" x="396"/><use id="k49_8" href="#YR" x="448"/><use id="k49_9" href="#YR" x="500"/><use id="k49_10" href="#YR" x="552"/><use id="k49_11" href="#YR" x="604"/></g>
<g id="row50" transform="translate(0,2610)"><use id="k50_1" href="#YL" x="84"/><use id="k50_2" href="#YL" x="136"/><use id="k50_3" href="#YL" x="188"/><use id="k50_4" href="#YL" x="240"/><use id="k50_5" href="#YL" x="292"/><use id="k50_6" href="#YL" x="344"/><use id="k50_7" href="#YL" x="396"/><use id="k50_8" href="#YL" x="448"/><use id="k50_9" href="#YL" x="500"/><use id="k50_10" href="#YL" x="552"/><use id="k50_11" href="#YL" x="604"/></g>
<g id="row51" transform="translate(0,2662)"><use id="k51_1" href="#YR" x="84"/><use id="k51_2" href="#YR" x="136"/><use id="k51_3" href="#YR" x="188"/><use id="k51_4" href="#YR" x="240"/><use id="k51_5" href="#GR" x="292"/><use id="k51_6" href="#GR" x="344"/><use id="k51_7" href="#GR" x="396"/><use id="k51_8" href="#YR" x="448"/><use id="k51_9" href="#YR" x="500"/><use id="k51_10" href="#YR" x="552"/><use id="k51_11" href="#YR" x="604"/></g>
<g id="row52" transform="translate(0,2714)"><use id="k52_1" href="#YL" x="84"/><use id="k52_2" href="#YL" x="136"/><use id="k52_3" href="#YL" x="188"/><use id="k52_4" href="#GL" x="240"/><use id="k52_5" href="#GL" x="292"/><use id="k52_6" href="#YL" x="344"/><use id="k52_7" href="#YL" x="396"/><use id="k52_8" href="#GL" x="448"/><use id="k52_9" href="#YL" x="500"/><use id="k52_10" href="#YL" x="552"/><use id="k52_11" href="#YL" x="604"/></g>
<g id="row53" transform="translate(0,2766)"><use id="k53_1" href="#YR" x="84"/><use id="k53_2" href="#YR" x="136"/><use id="k53_3" href="#GR" x="188"/><use id="k53_4" href="#GR" x="240"/><use id="k53_5" href="#YR" x="292"/><use id="k53_6" href="#YR" x="344"/><use id="k53_7" href="#YR" x="396"/><use id="k53_8" href="#YR" x="448"/><use id="k53_9" href="#YR" x="500"/><use id="k53_10" href="#YR" x="552"/><use id="k53_11" href="#YR" x="604"/></g>
<g id="row54" transform="translate(0,2818)"><use id="k54_1" href="#GL" x="84"/><use id="k54_2" href="#YL" x="136"/><use id="k54_3" href="#GL" x="188"/><use id="k54_4" href="#GL" x="240"/><use id="k54_5" href="#YL" x="292"/><use id="k54_6" href="#GL" x="344"/><use id="k54_7" href="#YL" x="396"/><use id="k54_8" href="#GL" x="448"/><use id="k54_9" href="#YL" x="500"/><use id="k54_10" href="#GL" x="552"/><use id="k54_11" href="#YL" x="604"/></g>
<g id="row55" transform="translate(0,2870)"><use id="k55_1" href="#YR" x="84"/><use id="k55_2" href="#YR" x="136"/><use id="k55_3" href="#GR" x="188"/><use id="k55_4" href="#GR" x="240"/><use id="k55_5" href="#YR" x="292"/><use id="k55_6" href="#YR" x="344"/><use id="k55_7" href="#YR" x="396"/><use id="k55_8" href="#YR" x="448"/><use id="k55_9" href="#YR" x="500"/><use id="k55_10" href="#YR" x="552"/><use id="k55_11" href="#YR" x="604"/></g>
<g id="row56" transform="translate(0,2922)"><use id="k56_1" href="#YL" x="84"/><use id="k56_2" href="#YL" x="136"/><use id="k56_3" href="#LL" x="188"/><use id="k56_4" href="#GL" x="240"/><use id="k56_5" href="#GL" x="292"/><use id="k56_6" href="#YL" x="344"/><use id="k56_7" href="#YL" x="396"/><use id="k56_8" href="#GL" x="448"/><use id="k56_9" href="#YL" x="500"/><use id="k56_10" href="#YL" x="552"/><use id="k56_11" href="#YL" x="604"/></g>
<g id="row57" transform="translate(0,2974)"><use id="k57_1" href="#YR" x="84"/><use id="k57_2" href="#YR" x="136"/><use id="k57_3" href="#YR" x="188"/><use id="k57_4" href="#LR" x="240"/><use id="k57_5" href="#GR" x="292"/><use id="k57_6" href="#GR" x="344"/><use id="k57_7" href="#GR" x="396"/><use id="k57_8" href="#LR" x="448"/><use id="k57_9" href="#YR" x="500"/><use id="k57_10" href="#YR" x="552"/><use id="k57_11" href="#YR" x="604"/></g>
<g id="row58" transform="translate(0,3026)"><use id="k58_1" href="#YL" x="84"/><use id="k58_2" href="#YL" x="136"/><use id="k58_3" href="#YL" x="188"/><use id="k58_4" href="#YL" x="240"/><use id="k58_5" href="#LL" x="292"/><use id="k58_6" href="#LL" x="344"/><use id="k58_7" href="#LL" x="396"/><use id="k58_8" href="#YL" x="448"/><use id="k58_9" href="#YL" x="500"/><use id="k58_10" href="#YL" x="552"/><use id="k58_11" href="#YL" x="604"/></g>
<g id="row59" transform="translate(0,3078)"><use id="k59_1" href="#YR" x="84"/><use id="k59_2" href="#YR" x="136"/><use id="k59_3" href="#YR" x="188"/><use id="k59_4" href="#YR" x="240"/><use id="k59_5" href="#YR" x="292"/><use id="k59_6" href="#YR" x="344"/><use id="k59_7" href="#YR" x="396"/><use id="k59_8" href="#YR" x="448"/><use id="k59_9" href="#YR" x="500"/><use id="k59_10" href="#YR" x="552"/><use id="k59_11" href="#YR" x="604"/></g>
<g id="row60" transform="translate(0,3130)"><use id="k60_1" href="#YL" x="84"/><use id="k60_2" href="#YL" x="136"/><use id="k60_3" href="#YL" x="188"/><use id="k60_4" href="#YL" x="240"/><use id="k60_5" href="#YL" x="292"/><use id="k60_6" href="#YL" x="344"/><use id="k60_7" href="#YL" x="396"/><use id="k60_8" href="#YL" x="448"/><use id="k60_9" href="#YL" x="500"/><use id="k60_10" href="#YL" x="552"/><use id="k60_11" href="#YL" x="604"/></g>
<g id="row61" transform="translate(0,3182)"><use id="k61_1" href="#YR" x="84"/><use id="k61_2" href="#YR" x="136"/><use id="k61_3" href="#YR" x="188"/><use id="k61_4" href="#YR" x="240"/><use id="k61_5" href="#YR" x="292"/><use id="k61_6" href="#YR" x="344"/><use id="k61_7" href="#YR" x="396"/><use id="k61_8" href="#YR" x="448"/><use id="k61_9" href="#YR" x="500"/><use id="k61_10" href="#YR" x="552"/><use id="k61_11" href="#YR" x="604"/></g>
</g>
<g id="thread-labels" class="tl">
<text x="34" y="66.5" fill="#222">C</text>
<text x="34" y="482.5" fill="#222">B</text>
<text x="34" y="3030.5" fill="#222">B</text>
<text x="655" y="222.5" fill="#fff">A</text>
<text x="655" y="1054.5" fill="#fff">D</text>
<text x="655" y="2562.5" fill="#fff">D</text>
<text x="655" y="2978.5" fill="#fff">A</text>
<text x="655" y="3186.5" fill="#222">C</text>
</g>
<g id="row-labels">
<path class="ll" d="M26,114H66M26,166H66M26,218H66M26,270H66M26,322H66M26,374H66M26,426H66M26,530H66M26,582H66M26,634H66M26,686H66M26,738H66M26,790H66M26,842H66M26,894H66M26,946H66M26,998H66M26,1050H66M26,1102H66M26,1154H66M26,1206H66M26,1258H66M26,1310H66M26,1362H66M26,1414H66M26,1466H66M26,1518H66M26,1570H66M26,1622H66M26,1674H66M26,1726H66M26,1778H66M26,1830H66M26,1882H66M26,1934H66M26,1986H66M26,2038H66M26,2090H66M26,2142H66M26,2194H66M26,2246H66M26,2298H66M26,2350H66M26,2402H66M26,2454H66M26,2506H66M26,2558H66M26,2610H66M26,2662H66M26,2714H66M26,2766H66M26,2818H66M26,2870H66M26,2922H66M26,2974H66M26,3078H66M26,3130H66M26,3182H66"/>
<path class="ll" d="M622,62H662M622,114H662M622,166H662M622,270H662M622,322H662M622,374H662M622,426H662M622,478H662M622,530H662M622,582H662M622,634H662M622,686H662M622,738H662M622,790H662M622,842H662M622,894H662M622,946H662M622,998H662M622,1102H662M622,1154H662M622,1206H662M622,1258H662M622,1310H662M622,1362H662M622,1414H662M622,1466H662M622,1518H662M622,1570H662M622,1622H662M622,1674H662M622,1726H662M622,1778H662M622,1830H662M622,1882H662M622,1934H662M622,1986H662M622,2038H662M622,2090H662M622,2142H662M622,2194H662M622,2246H662M622,2298H662M622,2350H662M622,2402H662M622,2454H662M622,2506H662M622,2610H662M622,2662H662M622,2714H662M622,2766H662M622,2818H662M622,2870H662M622,2922H662M622,3026H662M622,3078H662M622,3130H662"/>
<g class="lb" text-anchor="end">
<text x="21" y="67">1</text><text x="21" y="119">2</text><text x="21" y="171">3</text><text x="21" y="223">4</text><text x="21" y="275">5</text><text x="21" y="327">6</text><text x="21" y="379">7</text><text x="21" y="431">8</text><text x="21" y="483">9</text><text x="21" y="535">10</text><text x="21" y="587">11</text><text x="21" y="639">12</text><text x="21" y="691">13</text><text x="21" y="743">14</text><text x="21" y="795">15</text><text x="21" y="847">16</text><text x="21" y="899">17</text><text x="21" y="951">18</text><text x="21" y="1003">19</text><text x="21" y="1055">20</text><text x="21" y="1107">21</text><text x="21" y="1159">22</text><text x="21" y="1211">23</text><text x="21" y="1263">24</text><text x="21" y="1315">25</text><text x="21" y="1367">26</text><text x="21" y="1419">27</text><text x="21" y="1471">28</text><text x="21" y="1523">29</text><text x="21" y="1575">30</text><text x="21" y="1627">31</text><text x="21" y="1679">32</text><text x="21" y="1731">33</text><text x="21" y="1783">34</text><text x="21" y="1835">35</text><text x="21" y="1887">36</text><text x="21" y="1939">37</text><text x="21" y="1991">38</text><text x="21" y="2043">39</text><text x="21" y="2095">40</text><text x="21" y="2147">41</text><text x="21" y="2199">42</text><text x="21" y="2251">43</text><text x="21" y="2303">44</text><text x="21" y="2355">45</text><text x="21" y="2407">46</text><text x="21" y="2459">47</text><text x="21" y="2511">48</text><text x="21" y="2563">49</text><text x="21" y="2615">50</text><text x="21" y="2667">51</text><text x="21" y="2719">52</text><text x="21" y="2771">53</text><text x="21" y="2823">54</text><text x="21" y="2875">55</text><text x="21" y="2927">56</text><text x="21" y="2979">57</text><text x="21" y="3031">58</text><text x="21" y="3083">59</text><text x="21" y="3135">60</text><text x="21" y="3187">61</text>
</g>
<g class="lb" text-anchor="start">
<text x="668" y="67">1</text><text x="668" y="119">2</text><text x="668" y="171">3</text><text x="668" y="223">4</text><text x="668" y="275">5</text><text x="668" y="327">6</text><text x="668" y="379">7</text><text x="668" y="431">8</text><text x="668" y="483">9</text><text x="668" y="535">10</text><text x="668" y="587">11</text><text x="668" y="639">12</text><text x="668" y="691">13</text><text x="668" y="743">14</text><text x="668" y="795">15</text><text x="668" y="847">16</text><text x="668" y="899">17</text><text x="668" y="951">18</text><text x="668" y="1003">19</text><text x="668" y="1055">20</text><text x="668" y="1107">21</text><text x="668" y="1159">22</text><text x="668" y="1211">23</text><text x="668" y="1263">24</text><text x="668" y="1315">25</text><text x="668" y="1367">26</text><text x="668" y="1419">27</text><text x="668" y="1471">28</text><text x="668" y="1523">29</text><text x="668" y="1575">30</text><text x="668" y="1627">31</text><text x="668" y="1679">32</text><text x="668" y="1731">33</text><text x="668" y="1783">34</text><text x="668" y="1835">35</text><text x="668" y="1887">36</text><text x="668" y="1939">37</text><text x="668" y="1991">38</text><text x="668" y="2043">39</text><text x="668" y="2095">40</text><text x="668" y="2147">41</text><text x="668" y="2199">42</text><text x="668" y="2251">43</text><text x="668" y="2303">44</text><text x="668" y="2355">45</text><text x="668" y="2407">46</text><text x="668" y="2459">47</text><text x="668" y="2511">48</text><text x="668" y="2563">49</text><text x="668" y="2615">50</text><text x="668" y="2667">51</text><text x="668" y="2719">52</text><text x="668" y="2771">53</text><text x="668" y="2823">54</text><text x="668" y="2875">55</text><text x="668" y="2927">56</text><text x="668" y="2979">57</text><text x="668" y="3031">58</text><text x="668" y="3083">59</text><text x="668" y="3135">60</text><text x="668" y="3187">61</text>
</g>
</g>
<text id="watermark" x="345" y="1653" font-family="Liberation Sans, Arial, sans-serif" font-weight="bold" font-size="14" fill="#333" text-anchor="middle" stroke="#fff" stroke-opacity="0.7" stroke-width="2.5" paint-order="stroke">BRACELETBOOK.COM</text>
</svg>
